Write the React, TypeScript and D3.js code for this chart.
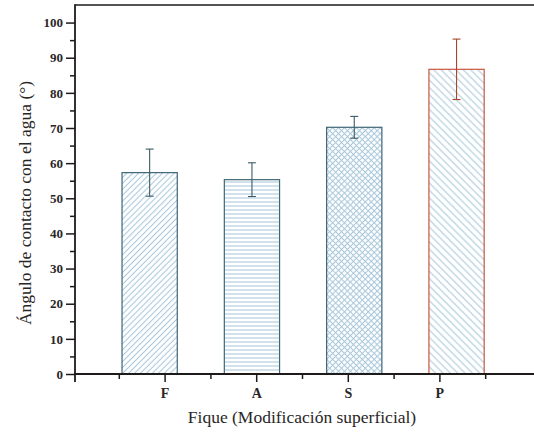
import React, { useRef, useEffect } from "react";
import * as d3 from "d3";

const categories = ["F", "A", "S", "P"];
const angles = [57.3, 55.3, 70.2, 86.7];
const errors = [6.7, 4.8, 3.1, 8.6];
const yMajorTicks = [0, 10, 20, 30, 40, 50, 60, 70, 80, 90, 100];
const patterns = ["diagUp", "horiz", "cross", "diagDown"];

const serif = "Times New Roman, Liberation Serif, serif";

const App: React.FC = () => {
  const ref = useRef<SVGSVGElement | null>(null);

  useEffect(() => {
    if (!ref.current) return;
    const svg = d3.select(ref.current);
    svg.selectAll("*").remove();

    const width = 534;
    const left = 75;
    const top = 5;
    const bottom = 374;
    const axisColor = "#1e1a1a";
    const hatch = "#a6c6da";
    const teal = "#3f6676";
    const red = "#c8563f";

    const y = d3.scaleLinear().domain([0, 105]).range([bottom, top]);
    // axis positions (Origin's tick layout does not sit under the bars)
    const xTick = d3.scaleLinear().domain([0, 5]).range([73, 531]);
    const xBar = d3
      .scaleBand()
      .domain(categories)
      .range([98.5, 507.7])
      .paddingInner(0.46)
      .paddingOuter(0.23);

    // hatch patterns
    const defs = svg.append("defs");
    const mk = (id: string, size: number, rot: number, lines: string[]) => {
      const p = defs
        .append("pattern")
        .attr("id", id)
        .attr("patternUnits", "userSpaceOnUse")
        .attr("width", size)
        .attr("height", size)
        .attr("patternTransform", `rotate(${rot})`);
      p.append("rect").attr("width", size).attr("height", size).attr("fill", "#fff");
      lines.forEach((d) =>
        p.append("path").attr("d", d).attr("stroke", hatch).attr("stroke-width", 1).attr("fill", "none")
      );
    };
    mk("diagUp", 4.2, -45, ["M0,2.1H4.2"]);
    mk("horiz", 4, 0, ["M0,2H4"]);
    mk("cross", 4.2, 45, ["M0,2.1H4.2", "M2.1,0V4.2"]);
    mk("diagDown", 5.2, 45, ["M0,2.6H5.2"]);

    // bars
    const g = svg.append("g");
    g.selectAll("rect")
      .data(categories)
      .join("rect")
      .attr("x", (d) => xBar(d)!)
      .attr("y", (_, i) => y(angles[i]))
      .attr("width", xBar.bandwidth())
      .attr("height", (_, i) => y(0) - y(angles[i]))
      .attr("fill", (_, i) => `url(#${patterns[i]})`)
      .attr("stroke", (_, i) => (i === 3 ? red : teal))
      .attr("stroke-width", 1.2);

    // error bars
    const cap = 4;
    categories.forEach((c, i) => {
      const cx = xBar(c)! + xBar.bandwidth() / 2;
      const col = i === 3 ? "#a8452f" : "#3c5a66";
      const hi = y(angles[i] + errors[i]);
      const lo = y(angles[i] - errors[i]);
      const e = g.append("g").attr("stroke", col).attr("stroke-width", 1.1);
      e.append("line").attr("x1", cx).attr("x2", cx).attr("y1", hi).attr("y2", lo);
      e.append("line").attr("x1", cx - cap).attr("x2", cx + cap).attr("y1", hi).attr("y2", hi);
      e.append("line").attr("x1", cx - cap).attr("x2", cx + cap).attr("y1", lo).attr("y2", lo);
    });

    // frame: top line
    svg
      .append("line")
      .attr("x1", left)
      .attr("x2", width)
      .attr("y1", top)
      .attr("y2", top)
      .attr("stroke", axisColor)
      .attr("stroke-width", 1.6);

    // y axis
    const yAxis = svg.append("g").attr("transform", `translate(${left},0)`);
    yAxis
      .call(
        d3
          .axisLeft(y)
          .tickValues(d3.range(5, 105, 10))
          .tickSize(5)
          .tickFormat(() => "")
      )
      .call((s) => s.select(".domain").remove());
    yAxis
      .append("g")
      .call(d3.axisLeft(y).tickValues(yMajorTicks).tickSize(9).tickPadding(3))
      .call((s) => s.select(".domain").remove())
      .call((s) =>
        s
          .selectAll("text")
          .attr("font-family", serif)
          .attr("font-weight", "bold")
          .attr("font-size", 13)
          .attr("fill", "#2a2626")
      );
    yAxis.selectAll("line").attr("stroke", axisColor).attr("stroke-width", 1.5);
    svg
      .append("line")
      .attr("x1", left)
      .attr("x2", left)
      .attr("y1", top - 0.8)
      .attr("y2", bottom + 8)
      .attr("stroke", axisColor)
      .attr("stroke-width", 1.8);

    // x axis
    const xAxis = svg.append("g").attr("transform", `translate(0,${bottom})`);
    xAxis
      .call(
        d3
          .axisBottom(xTick)
          .tickValues([0.5, 1.5, 2.5, 3.5, 4.5])
          .tickSize(5)
          .tickFormat(() => "")
      )
      .call((s) => s.select(".domain").remove());
    xAxis
      .append("g")
      .call(
        d3
          .axisBottom(xTick)
          .tickValues([1, 2, 3, 4])
          .tickSize(8)
          .tickPadding(6)
          .tickFormat((d) => categories[(d as number) - 1])
      )
      .call((s) => s.select(".domain").remove())
      .call((s) =>
        s
          .selectAll("text")
          .attr("font-family", serif)
          .attr("font-weight", "bold")
          .attr("font-size", 14)
          .attr("fill", "#2a2626")
      );
    xAxis.selectAll("line").attr("stroke", axisColor).attr("stroke-width", 1.5);
    svg
      .append("line")
      .attr("x1", left)
      .attr("x2", width)
      .attr("y1", bottom)
      .attr("y2", bottom)
      .attr("stroke", axisColor)
      .attr("stroke-width", 1.8);

    // axis titles
    svg
      .append("text")
      .attr("x", 302)
      .attr("y", 423)
      .attr("text-anchor", "middle")
      .attr("font-family", serif)
      .attr("font-size", 17.5)
      .attr("fill", "#2a2626")
      .text("Fique (Modificación superficial)");
    svg
      .append("text")
      .attr("transform", "translate(31,203) rotate(-90)")
      .attr("text-anchor", "middle")
      .attr("font-family", serif)
      .attr("font-size", 17.5)
      .attr("fill", "#2a2626")
      .text("Ángulo de contacto con el agua (°)");
  }, []);

  return (
    <svg
      ref={ref}
      width={534}
      height={434}
      style={{ position: "absolute", left: 0, top: 0, background: "#fff" }}
    />
  );
};

export default App;
